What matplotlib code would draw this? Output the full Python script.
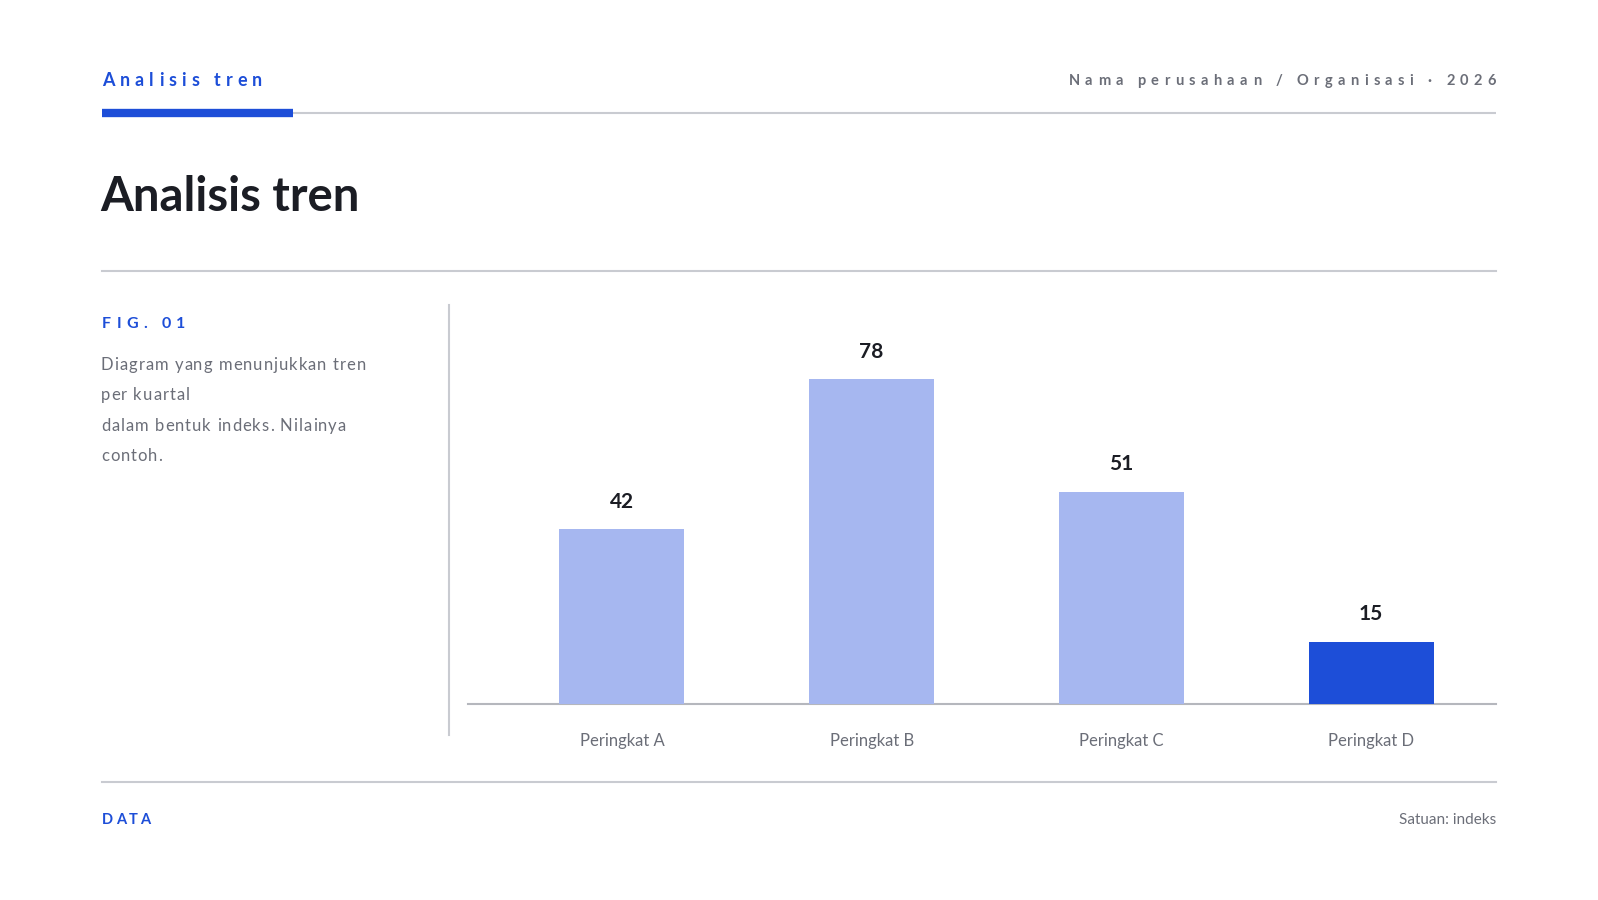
import matplotlib
matplotlib.use('Agg')
import matplotlib.pyplot as plt
from matplotlib.font_manager import FontProperties

# data
categories = ['Peringkat A', 'Peringkat B', 'Peringkat C', 'Peringkat D']
values = [42, 78, 51, 15]
bar_colors = ['#a6b7f0', '#a6b7f0', '#a6b7f0', '#1d4ed8']

kicker = 'Analisis tren'
org_text = 'Nama perusahaan / Organisasi · 2026'
title = 'Analisis tren'
fig_label = 'FIG. 01'
desc_lines = ['Diagram yang menunjukkan tren', 'per kuartal',
              'dalam bentuk indeks. Nilainya', 'contoh.']
footer_left = 'DATA'
footer_right = 'Satuan: indeks'

BLUE = '#1d4ed8'
DARK = '#1b1d24'
GRAY = '#6b6e78'
LINE = '#c9cbd1'

plt.rcParams['font.family'] = ['Lato', 'DejaVu Sans']

W, H = 1598, 900
fig = plt.figure(figsize=(W / 100, H / 100), dpi=100)
bg = fig.add_axes([0, 0, 1, 1])
bg.set_xlim(0, W)
bg.set_ylim(H, 0)
bg.axis('off')
renderer = fig.canvas.get_renderer()


def spaced(x, y, s, size, color, weight='normal', track=0.0, ha='left'):
    # draw text one char at a time so letter spacing can be set (pixels)
    fp = FontProperties(family='Lato', size=size, weight=weight)
    widths = []
    for ch in s:
        w, h, d = renderer.get_text_width_height_descent(ch if ch != ' ' else 'a a', fp, ismath=False)
        if ch == ' ':
            wa, _, _ = renderer.get_text_width_height_descent('aa', fp, ismath=False)
            w = w - wa
        widths.append(w)
    total = sum(widths) + track * (len(s) - 1)
    cx = x - total if ha == 'right' else x
    for ch, w in zip(s, widths):
        bg.text(cx, y, ch, fontproperties=fp, color=color, va='center', ha='left')
        cx += w + track


# header
spaced(102, 81, kicker, 13, BLUE, 'bold', track=5.1)
spaced(1496, 81, org_text, 10.5, GRAY, 'bold', track=5.4, ha='right')
bg.plot([102, 1496], [113, 113], color=LINE, lw=1.5, solid_capstyle='butt')
bg.plot([102, 293], [113, 113], color=BLUE, lw=6, solid_capstyle='butt')

# title
bg.text(100, 197, title, fontsize=34, fontweight='bold', color=DARK, va='center', ha='left')
bg.plot([102, 1496], [271, 271], color=LINE, lw=1.5)

# left description
spaced(102, 324, fig_label, 11.5, BLUE, 'bold', track=5.3)
for i, line in enumerate(desc_lines):
    spaced(101, 365 + i * 30.3, line, 12, GRAY, 'normal', track=1.0)
bg.plot([449, 449], [305, 735], color=LINE, lw=1.5)

# footer
bg.plot([102, 1496], [782, 782], color=LINE, lw=1.5)
spaced(102, 820, footer_left, 10.5, BLUE, 'bold', track=2.8)
bg.text(1496, 820, footer_right, fontsize=11, color=GRAY, va='center', ha='right')

# chart
ax = fig.add_axes([497 / W, (H - 704) / H, 999 / W, 400 / H])
x = list(range(len(categories)))
ax.bar(x, values, width=0.5, color=bar_colors, zorder=2)
for i, v in enumerate(values):
    ax.annotate(str(v), (i, v), xytext=(0, 19.5), textcoords='offset points',
                ha='center', va='center', fontsize=15, fontweight='bold', color=DARK)
ax.set_xlim(-0.5, 3.5)
ax.set_ylim(0, 96)
ax.set_xticks(x)
ax.set_xticklabels(categories, fontsize=12, color=GRAY)
ax.tick_params(axis='x', length=0, pad=21)
ax.set_yticks([])
for sp in ax.spines.values():
    sp.set_visible(False)
ax.patch.set_alpha(0)
bg.plot([468, 1496], [704, 704], color='#b5b7bd', lw=1.5, zorder=3)

fig.savefig('out.png', dpi=100)
